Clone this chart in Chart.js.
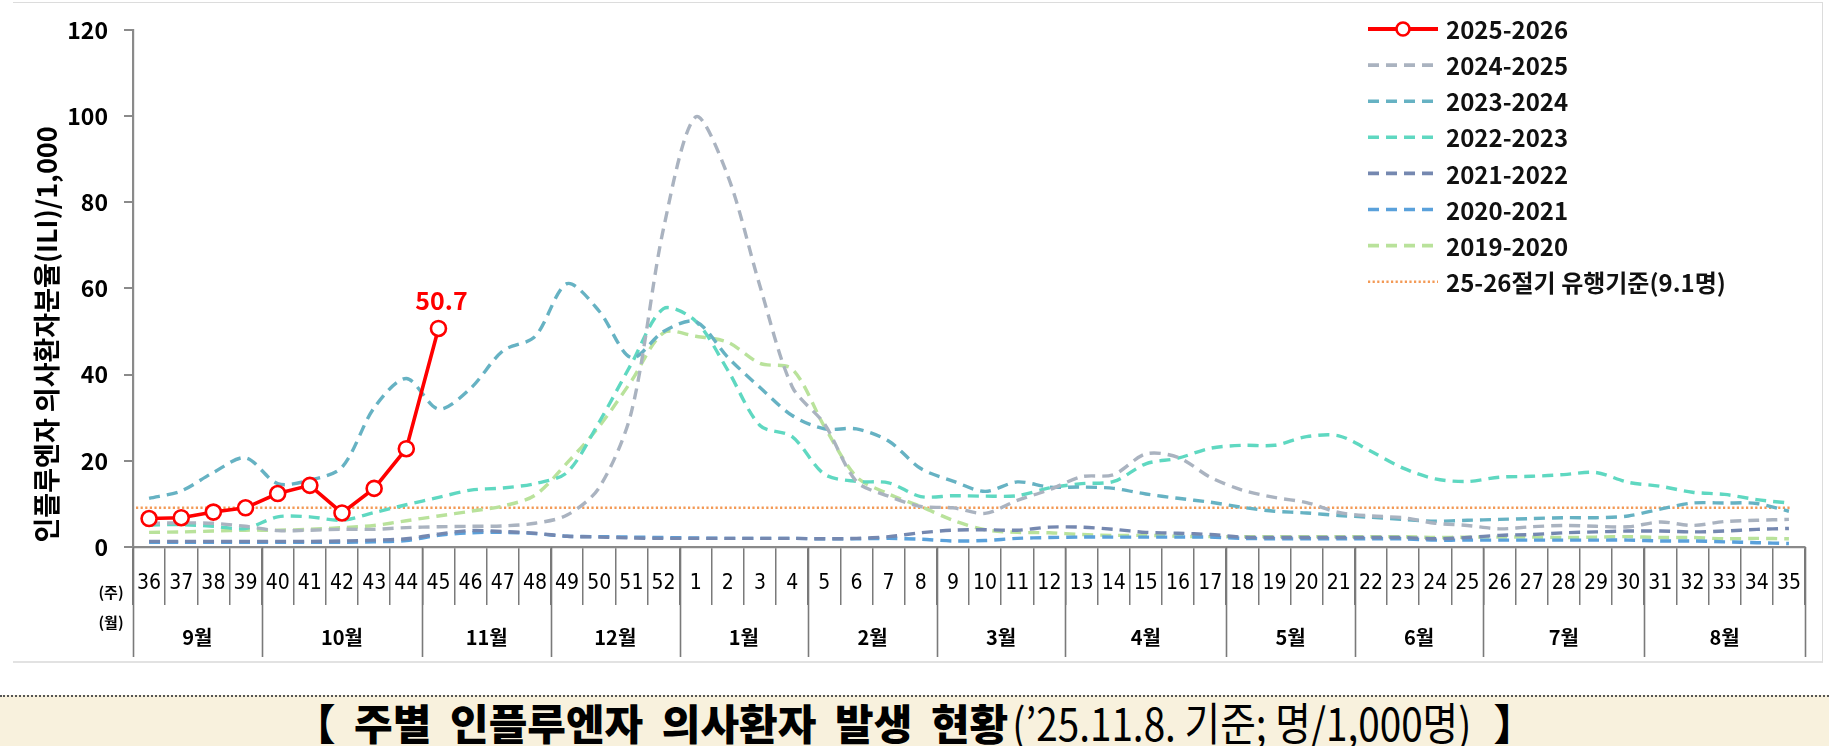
<!DOCTYPE html>
<html>
<head>
<meta charset="utf-8">
<script src="https://cdn.jsdelivr.net/npm/chart.js@4.4.1/dist/chart.umd.min.js"></script>
<style>
html, body { margin:0; padding:0; background:#fff; width:1829px; height:746px; overflow:hidden; }
#frame { position:absolute; left:13px; top:2px; width:1810px; height:661px; box-sizing:border-box;
  border-top:1.5px solid #dcdcdc; border-right:1.5px solid #dcdcdc; border-bottom:2px solid #e2e2e2; }
#wrap { position:absolute; left:0; top:0; width:1829px; height:680px; }
#band { position:absolute; left:0; top:695px; width:1829px; height:51px; box-sizing:border-box;
  border-top:2px dotted #555; background:#f8f1dd; display:flex; align-items:center; justify-content:center;
  font-family:"Noto Sans CJK KR", sans-serif; color:#000; white-space:pre; line-height:1; }
#band .b { font-size:42px; font-weight:900; word-spacing:9px; }
#band .r { font-size:45px; font-weight:400; display:inline-block; transform:scaleX(0.86); margin:0 -34px 0 -33px; }
</style>
</head>
<body>
<div id="frame"></div>
<div id="wrap"><canvas id="c"></canvas></div>
<div id="band"><span class="b">【 주별 인플루엔자 의사환자 발생 현황</span><span class="r">(’25.11.8. 기준; 명/1,000명)</span><span class="b"> 】</span></div>
<script>
// ---- data ----
const weeks = ['36','37','38','39','40','41','42','43','44','45','46','47','48','49','50','51','52',
  '1','2','3','4','5','6','7','8','9','10','11','12','13','14','15','16','17','18','19','20',
  '21','22','23','24','25','26','27','28','29','30','31','32','33','34','35'];
const months = ['9월','10월','11월','12월','1월','2월','3월','4월','5월','6월','7월','8월'];
const monthWeekCounts = [4,5,4,4,4,4,4,5,4,4,5,5];
const yTicks = [0,20,40,60,80,100,120];

const s2025_2026 = [6.6, 6.8, 8.1, 9.1, 12.4, 14.3, 7.9, 13.6, 22.8, 50.7];
const s2024_2025 = [5.5,5.6,5.5,4.8,3.8,3.9,4.1,4.1,4.5,4.7,4.8,4.9,5.5,7.4,13.8,31.3,73.9,
  99.8,86.1,60.5,37.2,28.6,15.2,11.8,9.4,9.1,7.8,10.8,13.3,16.3,16.8,21.6,20.8,16.2,13.2,11.5,10.3,
  8.0,7.2,6.8,5.5,5.0,4.2,4.7,5.0,4.8,4.7,5.8,5.0,5.9,6.2,6.4];
const s2023_2024 = [11.3,13.0,17.3,20.7,14.7,15.5,18.5,32.3,39.1,32.0,36.8,45.5,48.8,61.1,54.7,43.9,50.0,
  52.3,44.0,37.0,30.5,27.4,27.4,24.6,18.2,15.3,12.9,15.1,13.9,13.9,13.6,12.3,11.3,10.4,9.2,8.3,7.9,
  7.3,6.9,6.4,6.0,6.2,6.4,6.6,6.8,6.8,7.2,8.8,10.2,10.2,10.1,8.3];
const s2022_2023 = [5.1,5.2,4.8,4.3,7.0,7.0,6.2,8.0,9.8,11.5,13.2,13.7,14.7,17.3,29.0,42.5,55.3,
  52.4,41.0,28.2,25.6,16.9,15.2,14.9,11.7,11.9,11.8,11.9,13.7,14.7,15.2,19.3,20.6,22.9,23.6,23.6,25.6,
  25.8,22.2,18.3,15.8,15.2,16.2,16.4,16.8,17.3,15.0,14.1,12.7,12.2,11.0,10.2];
const s2021_2022 = [1.3,1.3,1.3,1.3,1.3,1.3,1.4,1.6,1.9,3.0,3.8,3.6,3.2,2.5,2.3,2.1,2.0,
  2.0,2.0,2.0,2.0,1.9,2.0,2.4,3.3,3.9,4.0,3.9,4.6,4.6,4.1,3.4,3.2,2.9,2.3,2.2,2.2,
  2.2,2.2,2.2,1.9,2.2,2.7,2.9,3.3,3.5,3.7,3.7,3.5,3.7,4.1,4.3];
const s2020_2021 = [1.1,1.1,1.1,1.1,1.1,1.1,1.1,1.2,1.5,2.7,3.3,3.4,3.1,2.5,2.4,2.3,2.2,
  2.1,2.0,2.0,2.0,1.9,1.9,2.0,1.8,1.4,1.5,2.0,2.2,2.3,2.3,2.3,2.3,2.3,2.0,1.9,1.9,
  1.9,1.9,1.9,1.6,1.6,1.6,1.6,1.6,1.6,1.6,1.4,1.4,1.2,1.0,0.8];
const s2019_2020 = [3.4,3.5,3.7,3.9,3.9,4.1,4.5,5.0,6.1,7.2,8.3,9.5,12.0,19.5,28.0,38.5,49.7,
  48.9,47.5,42.6,41.3,28.0,16.3,12.3,9.4,6.2,4.0,3.4,3.3,2.9,2.7,2.7,2.5,2.4,2.4,2.4,2.4,
  2.4,2.4,2.4,2.2,2.3,2.3,2.3,2.2,2.3,2.4,2.2,2.2,1.9,2.0,1.9];
const threshold = 9.1;
const thresholdLabel = '25-26절기 유행기준(9.1명)';
const yTitle = '인플루엔자 의사환자분율(ILI)/1,000';

// ---- styles ----
const KR = '"Noto Sans CJK KR", "Noto Sans", sans-serif';
const dash = [11, 7];
function dashed(label, data, color) {
  return { label, data, borderColor: color, backgroundColor: color, borderWidth: 3.4,
    borderDash: dash, pointRadius: 0, pointHoverRadius: 0, tension: 0.3, fill: false };
}
const datasets = [
  { label: '2025-2026', data: s2025_2026, borderColor: '#ff0000', backgroundColor: '#ffffff',
    borderWidth: 3.6, pointRadius: 7.5, pointBorderWidth: 2.6, pointBackgroundColor: '#ffffff',
    pointBorderColor: '#ff0000', tension: 0, fill: false },
  dashed('2024-2025', s2024_2025, '#aab3c0'),
  dashed('2023-2024', s2023_2024, '#66b2c3'),
  dashed('2022-2023', s2022_2023, '#5fd8c1'),
  dashed('2021-2022', s2021_2022, '#7588b0'),
  dashed('2020-2021', s2020_2021, '#5aa1db'),
  dashed('2019-2020', s2019_2020, '#b9e29b'),
];

const extras = {
  id: 'extras',
  beforeDatasetsDraw(chart) {
    const { ctx, chartArea, scales: { x, y } } = chart;
    const yy = y.getPixelForValue(threshold);
    ctx.save();
    ctx.strokeStyle = '#f39a56'; ctx.lineWidth = 2.6; ctx.setLineDash([2.2, 2.4]);
    ctx.beginPath(); ctx.moveTo(chartArea.left + 3, yy);
    ctx.lineTo(x.getPixelForValue(weeks.length - 1) + 2, yy); ctx.stroke();
    ctx.restore();
  },
  afterDraw(chart) {
    const { ctx, chartArea, scales: { x, y } } = chart;
    const half = (x.getPixelForValue(1) - x.getPixelForValue(0)) / 2;
    ctx.save();
    // month boundaries + labels
    const bounds = [0];
    monthWeekCounts.forEach(n => bounds.push(bounds[bounds.length - 1] + n));
    const edge = i => i < weeks.length ? x.getPixelForValue(i) - half : x.getPixelForValue(weeks.length - 1) + half;
    ctx.strokeStyle = '#7a7a7a'; ctx.lineWidth = 1.6;
    bounds.forEach(b => {
      const px = Math.round(edge(b)) + 0.5;
      ctx.beginPath(); ctx.moveTo(px, chartArea.bottom); ctx.lineTo(px, chartArea.bottom + 110); ctx.stroke();
    });
    ctx.fillStyle = '#000'; ctx.textAlign = 'center'; ctx.textBaseline = 'middle';
    ctx.font = 'bold 20px ' + KR;
    months.forEach((m, i) => ctx.fillText(m, (edge(bounds[i]) + edge(bounds[i + 1])) / 2, chartArea.bottom + 90));
    ctx.font = 'bold 15px ' + KR;
    ctx.fillText('(주)', chartArea.left - 22, chartArea.bottom + 45);
    ctx.fillText('(월)', chartArea.left - 22, chartArea.bottom + 75);
    // y title
    ctx.save();
    ctx.translate(47, (chartArea.top + chartArea.bottom) / 2 + 46);
    ctx.rotate(-Math.PI / 2);
    ctx.font = 'bold 27px ' + KR;
    ctx.fillText(yTitle, 0, 0);
    ctx.restore();
    // value label on last red point
    const meta = chart.getDatasetMeta(0);
    const last = meta.data[meta.data.length - 1];
    ctx.fillStyle = '#ff0000'; ctx.font = 'bold 25px ' + KR;
    ctx.fillText(s2025_2026[s2025_2026.length - 1].toFixed(1), last.x + 3, last.y - 28);
    // legend
    const lx0 = 1368, lx1 = 1438, tx = 1446, ly0 = 29, dy = 36.1;
    ctx.textAlign = 'left'; ctx.font = 'bold 24px ' + KR;
    const items = datasets.map(d => ({ text: d.label, ds: d })).concat([{ text: thresholdLabel, thr: true }]);
    items.forEach((it, i) => {
      const ly = ly0 + dy * i;
      ctx.save();
      if (it.thr) {
        ctx.strokeStyle = '#f39a56'; ctx.lineWidth = 2.6; ctx.setLineDash([2.2, 2.4]);
      } else {
        ctx.strokeStyle = it.ds.borderColor; ctx.lineWidth = it.ds.borderDash ? 3.6 : 3.8;
        ctx.setLineDash(it.ds.borderDash || []);
      }
      ctx.beginPath(); ctx.moveTo(lx0, ly); ctx.lineTo(lx1, ly); ctx.stroke();
      if (i === 0) {
        ctx.setLineDash([]); ctx.fillStyle = '#fff'; ctx.lineWidth = 2.6;
        ctx.beginPath(); ctx.arc((lx0 + lx1) / 2, ly, 6.5, 0, Math.PI * 2); ctx.fill(); ctx.stroke();
      }
      ctx.restore();
      ctx.fillStyle = '#111';
      ctx.fillText(it.text, tx, ly + 1);
    });
    ctx.restore();
  }
};

new Chart(document.getElementById('c'), {
  type: 'line',
  data: { labels: weeks, datasets },
  options: {
    responsive: true, maintainAspectRatio: false, animation: false,
    layout: { padding: { top: 27, right: 24, left: 0, bottom: 0 } },
    plugins: { legend: { display: false }, tooltip: { enabled: false }, title: { display: false } },
    scales: {
      x: {
        type: 'category', offset: true,
        grid: { offset: true, drawOnChartArea: false, drawTicks: true, tickLength: 58, color: '#7a7a7a', lineWidth: 1.5 },
        border: { display: true, color: '#8a8a8a', width: 2.2 },
        ticks: { autoSkip: false, maxRotation: 0, minRotation: 0, padding: -34, color: '#000',
          font: { family: '"Liberation Sans Narrow", "DejaVu Sans Condensed", ' + KR, size: 21 } },
        afterFit: s => { s.height = 133; }
      },
      y: {
        min: 0, max: 120,
        afterBuildTicks: s => { s.ticks = yTicks.map(v => ({ value: v })); },
        grid: { drawOnChartArea: false, drawTicks: true, tickLength: 9, color: '#8a8a8a', lineWidth: 2 },
        border: { display: true, color: '#8a8a8a', width: 2.2 },
        ticks: { padding: 16, color: '#000', font: { family: KR, size: 23, weight: 'bold' } },
        afterFit: s => { s.width = 133; }
      }
    }
  },
  plugins: [extras]
});
</script>
</body>
</html>
